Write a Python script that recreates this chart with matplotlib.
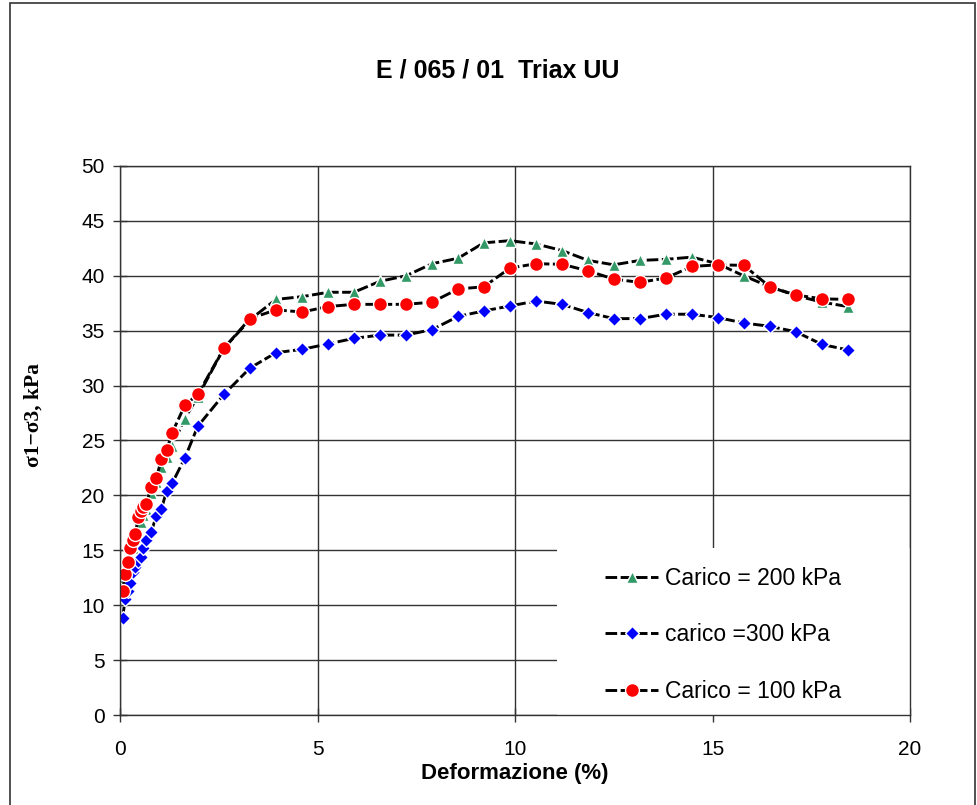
# Triax UU - curve sforzo/deformazione
import matplotlib
matplotlib.use("Agg")
import matplotlib.pyplot as plt
from matplotlib.patches import Rectangle

# Deformazione (%)
deformazione = [0.066, 0.13, 0.20, 0.26, 0.33, 0.39, 0.46, 0.53, 0.59, 0.66,
                0.79, 0.92, 1.05, 1.18, 1.32, 1.64, 1.97,
                2.63, 3.29, 3.95, 4.61, 5.27, 5.92, 6.58, 7.24, 7.90, 8.56,
                9.21, 9.87, 10.53, 11.19, 11.85, 12.50, 13.16, 13.82, 14.48,
                15.13, 15.79, 16.45, 17.11, 17.77, 18.42]

# sigma1 - sigma3 (kPa)
carico_200 = [12.1, 12.6, 13.4, 14.4, 15.2, 15.9, 16.9, 17.6, 18.2, 18.8,
              20.2, 21.2, 22.6, 23.5, 24.5, 27.0, 29.0,
              33.4, 36.0, 37.85, 38.1, 38.5, 38.5, 39.5, 40.0, 41.1, 41.6,
              43.0, 43.2, 42.9, 42.3, 41.4, 41.0, 41.4, 41.5, 41.7,
              41.1, 40.0, 39.0, 38.2, 37.6, 37.2]
carico_300 = [8.8, 10.6, 11.3, 12.0, 13.0, 13.5, 14.0, 14.4, 15.2, 15.9,
              16.7, 18.1, 18.8, 20.4, 21.1, 23.4, 26.3,
              29.2, 31.6, 33.0, 33.3, 33.8, 34.3, 34.6, 34.6, 35.1, 36.3,
              36.8, 37.25, 37.7, 37.4, 36.65, 36.1, 36.1, 36.5, 36.5,
              36.2, 35.7, 35.4, 34.9, 33.75, 33.25]
carico_100 = [11.3, 12.8, 13.9, 15.2, 15.9, 16.5, 18.0, 18.6, 18.9, 19.2,
              20.8, 21.6, 23.3, 24.1, 25.7, 28.2, 29.2,
              33.4, 36.1, 36.9, 36.7, 37.2, 37.4, 37.4, 37.4, 37.6, 38.8,
              39.0, 40.7, 41.1, 41.05, 40.45, 39.7, 39.4, 39.8, 40.85,
              41.0, 40.95, 39.0, 38.25, 37.9, 37.85]

plt.rcParams['font.family'] = ['Liberation Sans', 'DejaVu Sans']

fig = plt.figure(figsize=(9.78, 8.05), dpi=100)
ax = fig.add_axes([0.1227, 0.1118, 0.8078, 0.682])

# cornice esterna
fig.patches.append(Rectangle((10 / 978, -0.01), 965 / 978, 1.01 - 3 / 805,
                             transform=fig.transFigure, fill=False,
                             edgecolor='#333333', linewidth=1.2))

stile = dict(color='black', linewidth=2.1, dashes=(4, 1.2),
             markeredgecolor='white', markeredgewidth=1.0)

ax.plot(deformazione, carico_200, marker='^', markersize=9,
        markerfacecolor='#339966', label='Carico = 200 kPa', zorder=3, **stile)
ax.plot(deformazione, carico_300, marker='D', markersize=7,
        markerfacecolor='#0000FF', label='carico =300 kPa', zorder=3, **stile)
ax.plot(deformazione, carico_100, marker='o', markersize=10,
        markerfacecolor='#FF0000', label='Carico = 100 kPa', zorder=3, **stile)

ax.set_xlim(0, 20)
ax.set_ylim(0, 50)
ax.set_xticks(range(0, 21, 5))
ax.set_yticks(range(0, 51, 5))
ax.grid(True, color='#333333', linewidth=1.0)
ax.set_axisbelow(True)
ax.tick_params(direction='inout', length=10, width=1.0, color='#333333',
               labelsize=15, pad=6)
ax.tick_params(axis='x', pad=13)
for s in ax.spines.values():
    s.set_color('#333333')
    s.set_linewidth(1.0)
    s.set_zorder(6)

# riquadro bianco della legenda
ax.add_patch(Rectangle((0.553, 0.0), 0.447, 0.304, transform=ax.transAxes,
                       facecolor='white', edgecolor='none', zorder=4))
leg = ax.legend(loc='upper left', bbox_to_anchor=(0.6, 0.29), frameon=False,
                fontsize=16.5, labelspacing=1.45, handlelength=2.3,
                handletextpad=0.3, borderpad=0)
leg.set_zorder(7)

ax.set_title('E / 065 / 01  Triax UU', fontsize=18, fontweight='bold', pad=64,
             x=0.478)
ax.set_xlabel('Deformazione (%)', fontsize=16, fontweight='bold', labelpad=3)
ax.set_ylabel('σ1−σ3, kPa', fontsize=15.5, fontweight='bold',
              family=['Liberation Serif', 'DejaVu Serif'])
ax.yaxis.set_label_coords(-0.097, 0.546)

fig.savefig('out.png', dpi=100)
